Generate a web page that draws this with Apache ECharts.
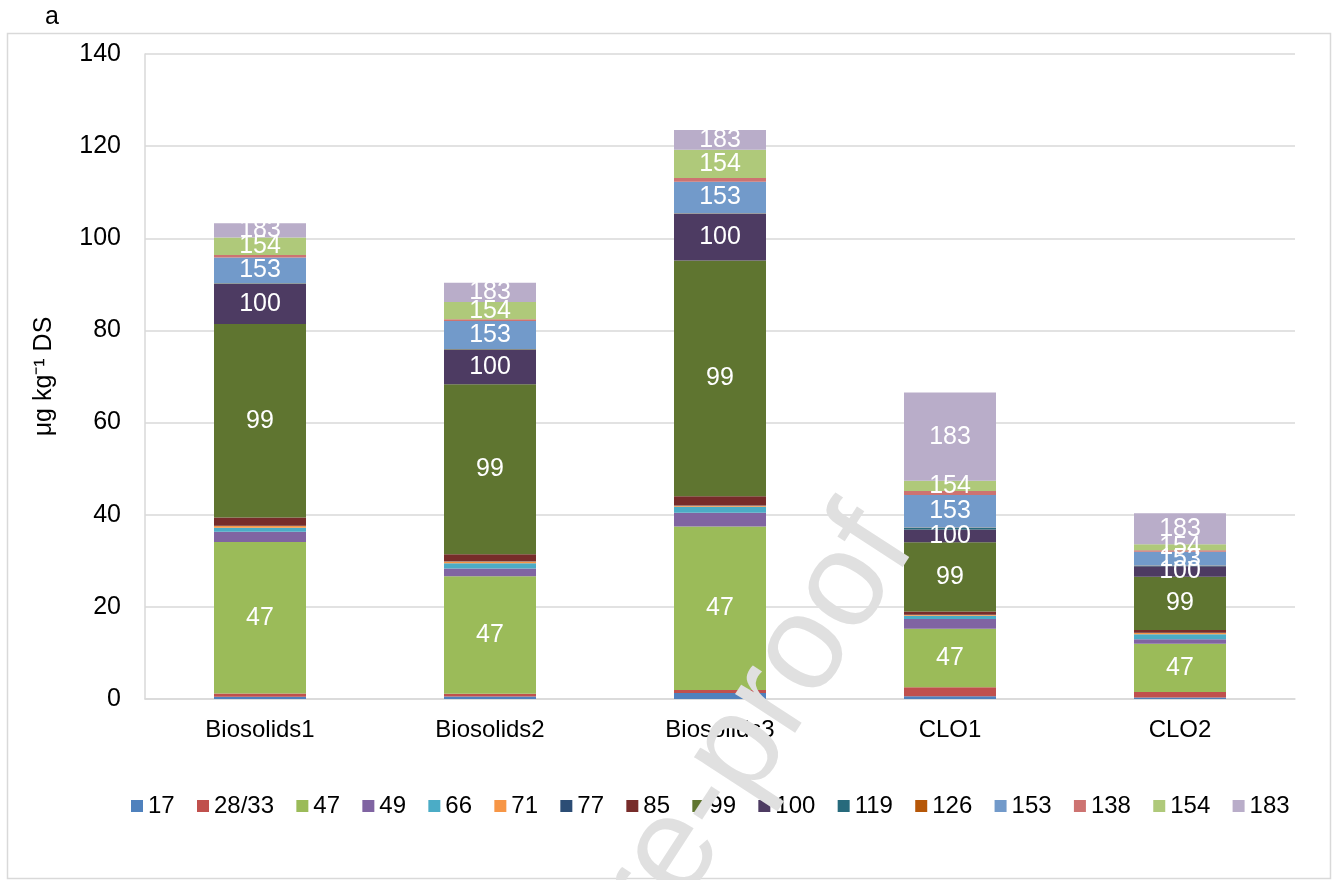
<!DOCTYPE html>
<html>
<head>
<meta charset="utf-8">
<script src="https://cdn.jsdelivr.net/npm/echarts@6/dist/echarts.min.js"></script>
<style>
  html, body { margin: 0; padding: 0; background: #fff; }
  #main { width: 1337px; height: 880px; }
</style>
</head>
<body>
<div id="main"></div>
<script>
// categories and PCB congeners (stacked bottom -> top)
var categories = ['Biosolids1', 'Biosolids2', 'Biosolids3', 'CLO1', 'CLO2'];
var congeners = ['17', '28/33', '47', '49', '66', '71', '77', '85', '99', '100', '119', '126', '153', '138', '154', '183'];
var colors = ['#4F81BD', '#C0504D', '#9BBB59', '#8064A2', '#4BACC6', '#F79646', '#2C4D75', '#772C2A',
              '#5F7530', '#4D3B62', '#276A7C', '#B65708', '#729ACA', '#CD7371', '#AFC97A', '#B9ADC9'];

// values, µg/kg DS
var v17   = [0.5, 0.55, 1.3, 0.6, 0.3];
var v28   = [0.7, 0.6, 0.65, 1.95, 1.2];
var v47   = [32.9, 25.5, 35.5, 12.7, 10.5];
var v49   = [2.2, 1.7, 3.0, 2.1, 0.95];
var v66   = [0.85, 1.1, 1.3, 0.7, 1.1];
var v71   = [0.4, 0.4, 0.2, 0.2, 0.3];
var v77   = [0.05, 0.05, 0.05, 0.05, 0.05];
var v85   = [1.8, 1.5, 2.0, 0.7, 0.55];
var v99   = [42.0, 36.9, 51.2, 15.0, 11.6];
var v100  = [8.7, 7.5, 10.1, 2.8, 2.25];
var v119  = [0.1, 0.1, 0.1, 0.35, 0.1];
var v126  = [0.05, 0.05, 0.05, 0.05, 0.05];
var v153  = [5.6, 6.1, 6.8, 7.1, 3.0];
var v138  = [0.5, 0.4, 0.85, 0.85, 0.35];
var v154  = [3.8, 3.7, 6.1, 2.2, 1.3];
var v183  = [3.1, 4.2, 4.3, 19.2, 6.7];
var values = [v17, v28, v47, v49, v66, v71, v77, v85, v99, v100, v119, v126, v153, v138, v154, v183];

// only these get a label inside the bar
var labelled = ['47', '99', '100', '153', '154', '183'];

var yTicks = [0, 20, 40, 60, 80, 100, 120, 140];

var font = 'Liberation Sans, Arial, sans-serif';
var chart = echarts.init(document.getElementById('main'));

var series = congeners.map(function (name, i) {
  return {
    name: name,
    type: 'bar',
    stack: 'total',
    barWidth: '40%',
    data: values[i],
    itemStyle: { color: colors[i] },
    label: {
      show: labelled.indexOf(name) >= 0,
      position: 'inside',
      formatter: name,
      color: '#fff',
      fontSize: 25,
      fontFamily: font
    }
  };
});

var option = {
  animation: false,
  backgroundColor: '#fff',
  textStyle: { fontFamily: font },
  grid: { left: 145, right: 42, top: 54, bottom: 181 },
  legend: {
    data: congeners,
    left: 126,
    top: 789,
    icon: 'rect',
    itemWidth: 12,
    itemHeight: 12,
    itemGap: 22.3,
    textStyle: { fontSize: 24, color: '#000', fontFamily: font }
  },
  xAxis: {
    type: 'category',
    data: categories,
    axisLine: { lineStyle: { color: '#d9d9d9', width: 1.5 } },
    axisTick: { show: false },
    axisLabel: { color: '#000', fontSize: 24, margin: 19, fontFamily: font }
  },
  yAxis: {
    type: 'value',
    min: yTicks[0],
    max: yTicks[yTicks.length - 1],
    interval: 20,
    name: 'μg kg⁻¹ DS',
    nameLocation: 'middle',
    nameGap: 88,
    nameTextStyle: { color: '#000', fontSize: 25, fontFamily: font },
    axisLine: { show: true, lineStyle: { color: '#d9d9d9', width: 1.5 } },
    axisTick: { show: false },
    axisLabel: { color: '#000', fontSize: 25, margin: 24, fontFamily: font },
    splitLine: { lineStyle: { color: '#d9d9d9', width: 1.5 } }
  },
  graphic: [
    {
      type: 'rect',
      shape: { x: 7.5, y: 33.5, width: 1323, height: 845 },
      style: { fill: 'none', stroke: '#d9d9d9', lineWidth: 1.5 },
      silent: true
    },
    {
      type: 'text',
      left: 45,
      top: 5,
      style: { text: 'a', font: '25px ' + font, fill: '#000' }
    },
    {
      // "Journal Pre-proof" watermark
      type: 'text',
      x: 942,
      y: 562,
      rotation: 57 * Math.PI / 180,
      z: 100,
      silent: true,
      style: {
        text: 'Journal Pre-proof',
        font: '135px ' + font,
        fill: '#e0e0e0',
        textAlign: 'right',
        textVerticalAlign: 'bottom',
        align: 'right',
        verticalAlign: 'bottom'
      }
    }
  ],
  series: series
};

chart.setOption(option);
</script>
</body>
</html>
